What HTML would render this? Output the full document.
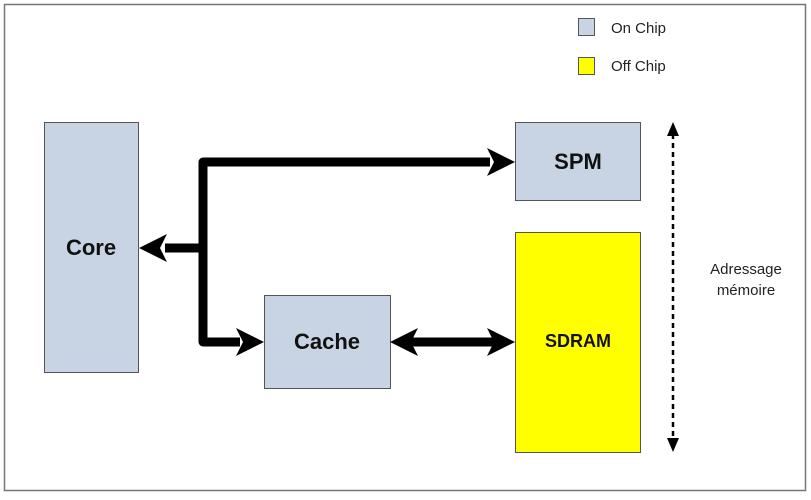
<!DOCTYPE html>
<html><head><style>
body{margin:0;background:#fff;}
svg text{font-family:"Liberation Sans",Arial,sans-serif;}
</style></head><body>
<svg width="811" height="495" viewBox="0 0 811 495" xmlns="http://www.w3.org/2000/svg">
<rect x="0" y="0" width="811" height="495" fill="#fff"/>
<rect x="4.5" y="4.5" width="801" height="486" fill="#fff" stroke="#777" stroke-width="1.5"/>
<!-- legend -->
<rect x="578.5" y="18.5" width="16" height="17" fill="#c8d4e4" stroke="#555"/>
<text x="611" y="33" font-size="15" fill="#222">On Chip</text>
<rect x="578.5" y="57.5" width="16" height="17" fill="#ffff00" stroke="#555"/>
<text x="611" y="71" font-size="15" fill="#222">Off Chip</text>
<!-- boxes -->
<rect x="44.5" y="122.5" width="94" height="250" fill="#c8d4e4" stroke="#555"/>
<text x="91" y="255" font-size="22" font-weight="bold" text-anchor="middle" fill="#111">Core</text>
<rect x="515.5" y="122.5" width="125" height="78" fill="#c8d4e4" stroke="#555"/>
<text x="578" y="169" font-size="22" font-weight="bold" text-anchor="middle" fill="#111">SPM</text>
<rect x="264.5" y="295.5" width="126" height="93" fill="#c8d4e4" stroke="#555"/>
<text x="327" y="349" font-size="22" font-weight="bold" text-anchor="middle" fill="#111">Cache</text>
<rect x="515.5" y="232.5" width="125" height="220" fill="#ffff00" stroke="#555"/>
<text x="578" y="347" font-size="18" font-weight="bold" text-anchor="middle" fill="#111">SDRAM</text>
<!-- bus -->
<path d="M490 162 H203 V342 H240" fill="none" stroke="#000" stroke-width="9" stroke-linejoin="round"/>
<line x1="165" y1="248" x2="203" y2="248" stroke="#000" stroke-width="9"/>
<polygon points="515,162 487,148 494,162 487,176" fill="#000"/>
<polygon points="139,248 167,234 160,248 167,262" fill="#000"/>
<polygon points="264,342 236,328 243,342 236,356" fill="#000"/>
<line x1="410" y1="342" x2="495" y2="342" stroke="#000" stroke-width="9"/>
<polygon points="390,342 418,328 411,342 418,356" fill="#000"/>
<polygon points="515,342 487,328 494,342 487,356" fill="#000"/>
<!-- dotted -->
<line x1="673" y1="134" x2="673" y2="440" stroke="#000" stroke-width="2.5" stroke-dasharray="5,4"/>
<polygon points="673,122 667,136 679,136" fill="#000"/>
<polygon points="673,452 667,438 679,438" fill="#000"/>
<text x="746" y="274" font-size="15" text-anchor="middle" fill="#222">Adressage</text>
<text x="746" y="295" font-size="15" text-anchor="middle" fill="#222">mémoire</text>
</svg>
</body></html>
